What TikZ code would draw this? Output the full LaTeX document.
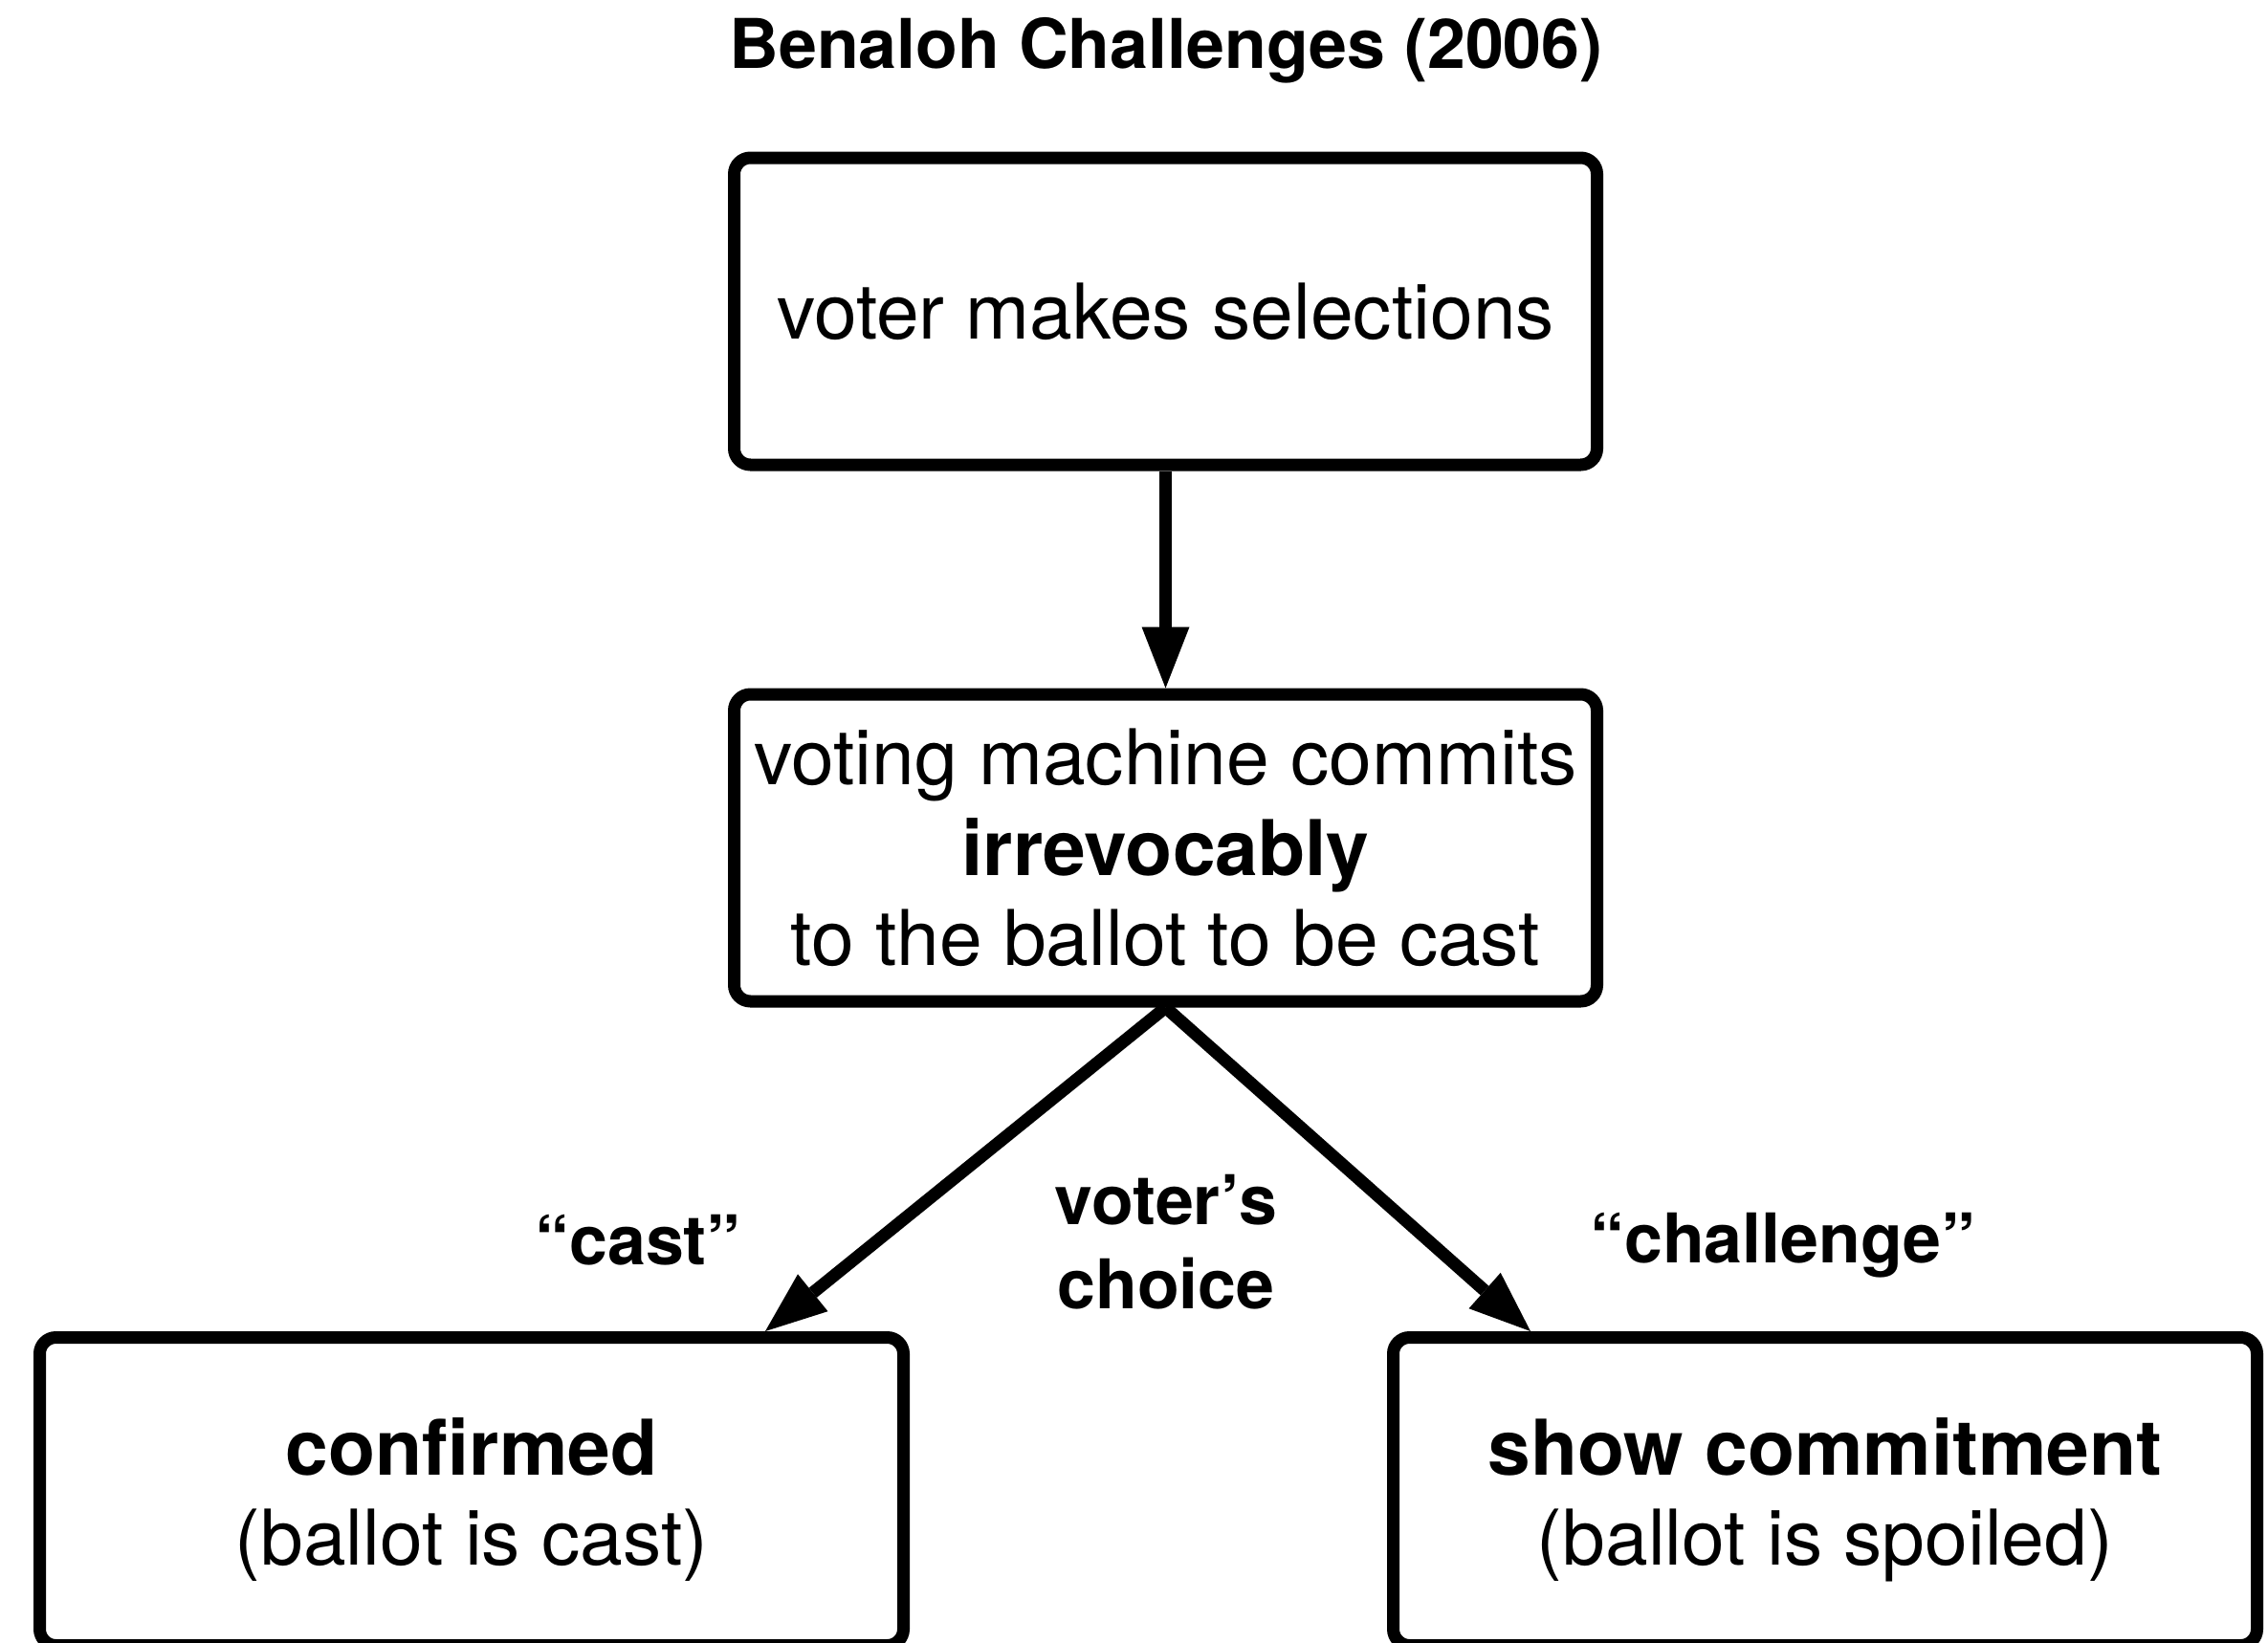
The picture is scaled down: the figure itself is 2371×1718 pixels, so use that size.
\documentclass[tikz,border=0pt]{standalone}
\usepackage{fontspec}
\setmainfont{TeX Gyre Heros}
\usetikzlibrary{arrows.meta}
\begin{document}
\begin{tikzpicture}[x=1pt,y=-1pt,
  stepbox/.style={draw, line width=13pt, rounded corners=17pt,
    minimum width=902pt, minimum height=321pt, align=center, inner sep=0pt,
    font=\fontsize{80.4}{94.5}\selectfont},
  lbl/.style={align=center, inner sep=0pt, font=\fontsize{71.7}{88}\selectfont\bfseries},
  flow/.style={line width=13pt, -{Triangle[length=64pt,width=50pt,line width=0pt]}}]
  \useasboundingbox (0,0) rectangle (2371,1718);
  \clip (0,0) rectangle (2371,1718);

  % title
  \node[lbl] (title) at (1219,53) {Benaloh Challenges (2006)};

  % steps
  \node[stepbox] (sel) at (1218.5,325.5) {voter makes selections};
  \node[stepbox] (commit) at (1218.5,886.5)
    {voting machine commits\\\textbf{irrevocably}\\to the ballot to be cast};
  \node[stepbox, minimum width=903pt, minimum height=322pt, text depth=0pt] (cast) at (493,1559.5)
    {\textbf{confirmed}\\(ballot is cast)};
  \node[stepbox, minimum width=903pt, minimum height=322pt, text depth=0pt] (spoil) at (1908,1559.5)
    {\textbf{show commitment}\\(ballot is spoiled)};

  % branch labels
  \node[lbl] (lcast) at (667,1297) {“cast”};
  \node[lbl] (lchoice) at (1219,1299) {voter’s\\choice};
  \node[lbl] (lchal) at (1864,1302) {“challenge”};

  % connectors
  \draw[flow] (sel.south) -- (commit.north);
  \draw[flow] (commit.south) -- ([xshift=307pt]cast.north);
  \draw[flow] (commit.south) -- ([xshift=-308pt]spoil.north);
\end{tikzpicture}
\end{document}
